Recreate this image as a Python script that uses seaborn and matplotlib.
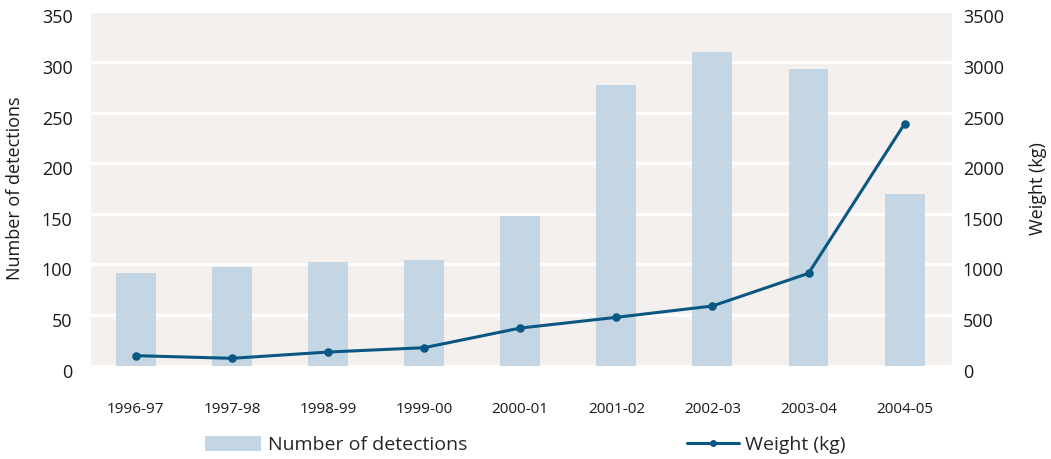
import matplotlib
matplotlib.use("Agg")
import matplotlib.pyplot as plt
import matplotlib.transforms as mtransforms
import seaborn as sns
import pandas as pd
from matplotlib.patches import Patch
from matplotlib.lines import Line2D

seasons = ["1996-97", "1997-98", "1998-99", "1999-00", "2000-01",
           "2001-02", "2002-03", "2003-04", "2004-05"]
detections = [92, 97, 102, 104, 148, 277, 310, 293, 170]
weight_kg = [98, 72, 134, 177, 371, 477, 589, 912, 2390]

left_ticks = [0, 50, 100, 150, 200, 250, 300, 350]
right_ticks = [0, 500, 1000, 1500, 2000, 2500, 3000, 3500]

BG = "#F3F0ED"
BAR = "#C4D6E3"
LINE = "#0B5783"
TXT = "#1a1a1a"

sns.set_theme(style="white")
plt.rcParams["font.family"] = ["Open Sans", "DejaVu Sans"]

df = pd.DataFrame({"season": seasons, "detections": detections, "weight": weight_kg})

fig = plt.figure(figsize=(10.51, 4.59), dpi=100)
fig.patch.set_facecolor("white")
ax = fig.add_axes([0.0863, 0.2035, 0.8192, 0.7715])
ax.set_facecolor(BG)

sns.barplot(data=df, x="season", y="detections", ax=ax, color=BAR,
            saturation=1, width=0.416, order=seasons, linewidth=0,
            edgecolor="none")

ax2 = ax.twinx()
sns.pointplot(data=df, x="season", y="weight", ax=ax2, color=LINE,
              order=seasons, markers="o", markersize=4.5, linewidth=2.2)

for a in (ax, ax2):
    for s in a.spines.values():
        s.set_visible(False)
    a.tick_params(length=0)

ax.set_ylim(0, 350)
ax2.set_ylim(0, 3500)
ax.set_xlim(-0.47, 8.49)
ax2.set_xlim(-0.47, 8.49)

ax.set_yticks(left_ticks)
ax.set_yticklabels([str(t) for t in left_ticks], fontsize=13, color=TXT)
ax2.set_yticks(right_ticks)
ax2.set_yticklabels([str(t) for t in right_ticks], fontsize=13, color=TXT)
ax.tick_params(axis="y", pad=13)
ax2.tick_params(axis="y", pad=8)

# numbers sit a little below their gridlines
shift = mtransforms.ScaledTranslation(0, -5 / 100, fig.dpi_scale_trans)
for lab in ax.get_yticklabels() + ax2.get_yticklabels():
    lab.set_transform(lab.get_transform() + shift)

ax.yaxis.grid(True, color="white", linewidth=2.2)
ax.xaxis.grid(False)
ax2.grid(False)
ax.set_axisbelow(True)

ax.set_xticks(range(len(seasons)))
ax.set_xticklabels(seasons, fontsize=11, color=TXT)
ax.tick_params(axis="x", pad=26)

ax.set_xlabel("")
ax.set_ylabel("Number of detections", fontsize=13, color=TXT, labelpad=13)
ax2.set_ylabel("Weight (kg)", fontsize=13, color=TXT, labelpad=18)

h1 = Patch(facecolor=BAR, edgecolor="none")
h2 = Line2D([0], [0], color=LINE, lw=2.2, marker="o", markersize=4)
fig.legend([h1], ["Number of detections"], loc="center left",
           bbox_to_anchor=(0.178, 0.030), frameon=False, fontsize=14,
           handlelength=2.9, handleheight=0.8, handletextpad=0.35)
fig.legend([h2], ["Weight (kg)"], loc="center left",
           bbox_to_anchor=(0.637, 0.030), frameon=False, fontsize=14,
           handlelength=2.7, handletextpad=0.3)

fig.savefig("out.png", dpi=100, facecolor="white")
